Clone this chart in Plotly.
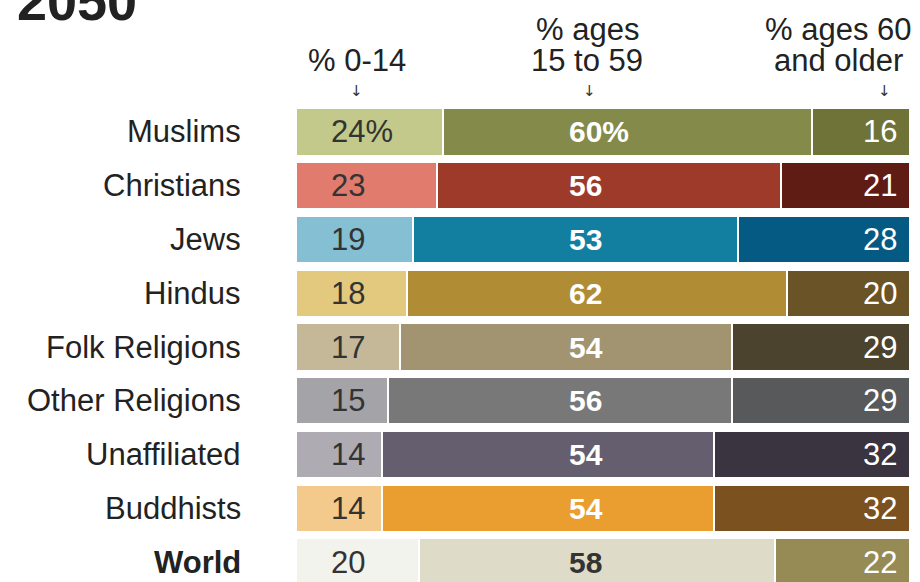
import plotly.graph_objects as go

categories = ["Muslims", "Christians", "Jews", "Hindus", "Folk Religions",
              "Other Religions", "Unaffiliated", "Buddhists", "World"]
age_0_14 = [24, 23, 19, 18, 17, 15, 14, 14, 20]
age_15_59 = [60, 56, 53, 62, 54, 56, 54, 54, 58]
age_60_up = [16, 21, 28, 20, 29, 29, 32, 32, 22]
header_lines = [["% 0-14"], ["% ages", "15 to 59"], ["% ages 60", "and older"]]
title_text = "2050"

colors_young = ["#c2c98a", "#e07b6d", "#85bfd3", "#e3c97e", "#c4b899",
                "#a4a4a8", "#aeabb3", "#f4c98c", "#f3f3ee"]
colors_mid = ["#848a4a", "#9e3a2a", "#127fa0", "#b08c35", "#a29470",
              "#777877", "#645e6e", "#ea9e2f", "#dedbc8"]
colors_old = ["#6f7338", "#5e1c14", "#045a82", "#6a5326", "#4b432d",
              "#58595b", "#3a3340", "#7c5120", "#968b55"]

W, H = 920, 582
L, R, T, B = 296, 10, 105, 0
plot_h = H - T - B
plot_w = W - L - R


def py(p):
    return (H - B - p) / plot_h


def px(p):
    return (p - L) / plot_w


FONT = "Liberation Sans, Arial, sans-serif"

fig = go.Figure()
for vals, cols in [(age_0_14, colors_young), (age_15_59, colors_mid), (age_60_up, colors_old)]:
    fig.add_trace(go.Bar(
        y=categories, x=vals, orientation="h",
        marker=dict(color=cols, line=dict(color="white", width=2)),
        hoverinfo="skip", showlegend=False,
    ))

ann = []
for i, cat in enumerate(categories):
    is_world = cat == "World"
    ann.append(dict(
        x=px(243), xref="paper", y=cat, yref="y",
        text=f"<b>{cat}</b>" if is_world else cat,
        xanchor="right", yanchor="middle", showarrow=False,
        font=dict(family=FONT, size=31, color="#222"),
    ))
    t1 = f"{age_0_14[i]}%" if i == 0 else str(age_0_14[i])
    ann.append(dict(
        x=5.4, xref="x", y=cat, yref="y", text=t1,
        xanchor="left", yanchor="middle", showarrow=False,
        font=dict(family=FONT, size=31, color="#333"),
    ))
    t2 = f"{age_15_59[i]}%" if i == 0 else str(age_15_59[i])
    ann.append(dict(
        x=44.2, xref="x", y=cat, yref="y", text=f"<b>{t2}</b>",
        xanchor="left", yanchor="middle", showarrow=False,
        font=dict(family=FONT, size=30, color="#333" if is_world else "white"),
    ))
    ann.append(dict(
        x=98.2, xref="x", y=cat, yref="y", text=str(age_60_up[i]),
        xanchor="right", yanchor="middle", showarrow=False,
        font=dict(family=FONT, size=31, color="white"),
    ))

# column headers (one annotation per line for tight leading)
header_x = [357, 587, 838]
arrow_x = [356, 589, 884]
for lines, hx, ax in zip(header_lines, header_x, arrow_x):
    ys = [61] if len(lines) == 1 else [29, 60]
    for txt, yy in zip(lines, ys):
        ann.append(dict(
            x=px(hx), xref="paper", y=py(yy), yref="paper", text=txt,
            xanchor="center", yanchor="middle", showarrow=False,
            font=dict(family=FONT, size=31, color="#222"),
        ))
    ann.append(dict(
        x=px(ax), xref="paper", y=py(91), yref="paper", text="↓",
        xanchor="center", yanchor="middle", showarrow=False,
        font=dict(family="DejaVu Sans", size=15, color="#333"),
    ))

ann.append(dict(
    x=px(15), xref="paper", y=py(1), yref="paper", text=f"<b>{title_text}</b>",
    xanchor="left", yanchor="middle", showarrow=False,
    font=dict(family=FONT, size=54, color="#222"),
))

fig.update_layout(
    barmode="stack", bargap=0.12,
    width=W, height=H,
    margin=dict(l=L, r=R, t=T, b=B, pad=0),
    paper_bgcolor="white", plot_bgcolor="white",
    xaxis=dict(range=[0, 100], visible=False, fixedrange=True),
    yaxis=dict(range=[8.37, -0.5], visible=False, type="category", fixedrange=True),
    annotations=ann,
)

fig.write_html("out.html", config={"displayModeBar": False},
               post_script="document.body.style.margin='0';document.body.style.overflow='hidden';")
